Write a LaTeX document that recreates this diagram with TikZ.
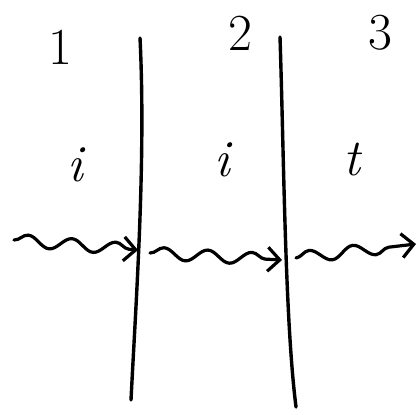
\documentclass[tikz,border=0pt]{standalone}
\usepackage{tikz}
\usetikzlibrary{arrows.meta, decorations.pathmorphing}

\begin{document}
\begin{tikzpicture}[x=1pt, y=-1pt, line cap=round,
    wall/.style={line width=3.4pt},
    lbl/.style={font=\fontsize{52}{52}\selectfont, inner sep=0pt},
    wave/.style={line width=3.2pt, decorate,
      decoration={snake, amplitude=6pt, segment length=44pt, post length=6pt},
      -{Straight Barb[length=12pt, width=24pt, line width=3.2pt]}}]
    \useasboundingbox (0,0) rectangle (419,414);
    % Grenzflächen
    \draw[wall] (140,38) .. controls (146,160) and (136,300) .. (131,400);
    \draw[wall] (280,37) .. controls (284,160) and (285,320) .. (296,407);
    % Medien
    \node[lbl] (n1) at (60,47) {1};
    \node[lbl] (n2) at (240,33) {2};
    \node[lbl] (n3) at (380,33) {3};
    % Wellen
    \node[lbl] (w1) at (75,165) {\itshape i};
    \node[lbl] (w2) at (222,160) {\itshape i};
    \node[lbl] (w3) at (352,160) {\itshape t};
    \coordinate (a0) at (14,240);
    \coordinate (a1) at (138,250);
    \coordinate (b1) at (150,253);
    \coordinate (b2) at (282,260);
    \coordinate (c2) at (296,258);
    \coordinate (c3) at (416,244);
    \draw[wave] (a0) -- (a1);
    \draw[wave] (b1) -- (b2);
    \draw[wave] (c2) -- (c3);
\end{tikzpicture}
\end{document}
